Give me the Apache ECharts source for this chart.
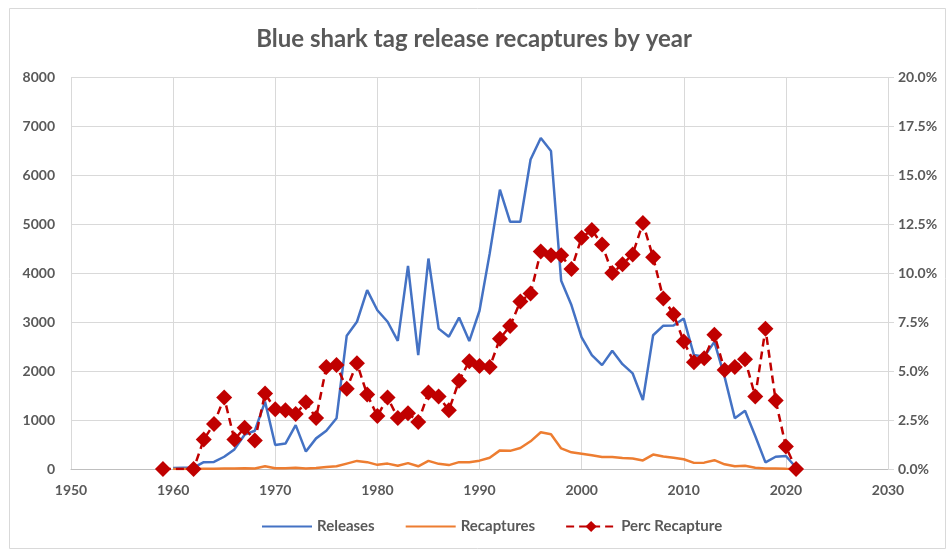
<!DOCTYPE html>
<html>
<head>
<meta charset="utf-8">
<script src="https://cdn.jsdelivr.net/npm/echarts@6/dist/echarts.min.js"></script>
<style>
  html, body { margin: 0; padding: 0; background: #fff; }
  #chart1 { width: 948px; height: 551px; }
</style>
</head>
<body>
<div id="chart1"></div>
<script>
// data
var years = [1960,1961,1962,1963,1964,1965,1966,1967,1968,1969,
             1970,1971,1972,1973,1974,1975,1976,1977,1978,1979,
             1980,1981,1982,1983,1984,1985,1986,1987,1988,1989,
             1990,1991,1992,1993,1994,1995,1996,1997,1998,1999,
             2000,2001,2002,2003,2004,2005,2006,2007,2008,2009,
             2010,2011,2012,2013,2014,2015,2016,2017,2018,2019,
             2020,2021];
var releases = [20,25,30,140,145,250,400,700,780,1375,
                490,520,895,355,625,780,1035,2720,3005,3650,
                3240,3005,2615,4145,2325,4295,2865,2700,3090,2610,
                3230,4400,5700,5045,5045,6315,6755,6490,3840,3345,
                2685,2325,2120,2415,2140,1950,1405,2730,2925,2930,
                3070,2325,2290,2595,1880,1035,1190,675,135,250,
                265,30];
var recaptures = [0,0,2,5,5,8,10,15,12,55,
                  15,15,25,12,18,40,55,110,165,140,
                  85,110,65,120,55,165,105,80,140,140,
                  170,230,380,370,430,565,750,710,420,340,
                  310,280,245,245,225,215,175,295,255,230,
                  200,125,130,180,95,55,65,25,10,9,
                  3,0];
var percYears = [1959,1962,1963,1964,1965,1966,1967,1968,1969,
                 1970,1971,1972,1973,1974,1975,1976,1977,1978,1979,
                 1980,1981,1982,1983,1984,1985,1986,1987,1988,1989,
                 1990,1991,1992,1993,1994,1995,1996,1997,1998,1999,
                 2000,2001,2002,2003,2004,2005,2006,2007,2008,2009,
                 2010,2011,2012,2013,2014,2015,2016,2017,2018,2019,
                 2020,2021];
var percRecapture = [0,0,1.5,2.3,3.65,1.5,2.1,1.45,3.85,
                     3.05,3.0,2.8,3.4,2.6,5.2,5.3,4.1,5.4,3.8,
                     2.7,3.65,2.6,2.85,2.4,3.9,3.7,3.0,4.5,5.5,
                     5.25,5.2,6.65,7.3,8.55,8.95,11.1,10.9,10.9,10.2,
                     11.8,12.2,11.45,10.0,10.45,10.95,12.55,10.8,8.7,7.9,
                     6.5,5.45,5.65,6.85,5.05,5.2,5.6,3.7,7.15,3.5,
                     1.15,0];

function pairs(xs, ys) {
  return xs.map(function (x, i) { return [x, ys[i]]; });
}

var textColor = '#595959';
var font = 'Lato, "Open Sans", sans-serif';
var noSymbol = { color: 'rgba(0,0,0,0)', borderWidth: 0, opacity: 0 };

var chart1 = echarts.init(document.getElementById('chart1'));

var option1 = {
  backgroundColor: '#fff',
  textStyle: { fontFamily: font },
  title: {
    text: 'Blue shark tag release recaptures by year',
    left: 'center',
    top: 22,
    textStyle: { color: textColor, fontSize: 24, fontWeight: 'bold', fontFamily: font }
  },
  graphic: [{
    type: 'rect',
    left: 7, top: 6,
    shape: { width: 936, height: 540 },
    style: { fill: 'none', stroke: '#d9d9d9', lineWidth: 1 },
    silent: true
  }],
  legend: {
    bottom: 12,
    left: 256,
    itemWidth: 50,
    itemHeight: 14,
    itemGap: 30,
    textStyle: { color: textColor, fontSize: 15, fontWeight: 'bold', fontFamily: font },
    data: [
      { name: 'Releases', itemStyle: noSymbol },
      { name: 'Recaptures', itemStyle: noSymbol },
      { name: 'Perc Recapture' }
    ]
  },
  grid: { left: 71, right: 60, top: 77, bottom: 82 },
  xAxis: {
    type: 'value',
    min: 1950, max: 2030, interval: 10,
    axisLine: { show: true, lineStyle: { color: '#bfbfbf' } },
    axisTick: { show: false },
    axisLabel: {
      color: textColor, fontSize: 14, fontWeight: 'bold', margin: 14,
      formatter: function (v) { return String(v); }
    },
    splitLine: { show: true, lineStyle: { color: '#d9d9d9' } }
  },
  yAxis: [{
    type: 'value',
    min: 0, max: 8000, interval: 1000,
    axisLine: { show: false },
    axisTick: { show: false },
    axisLabel: {
      color: textColor, fontSize: 14, fontWeight: 'bold', margin: 16,
      formatter: function (v) { return String(v); }
    },
    splitLine: { lineStyle: { color: '#d9d9d9' } }
  }, {
    type: 'value',
    min: 0, max: 20, interval: 2.5,
    position: 'right',
    axisLine: { show: false },
    axisTick: { show: true, length: 6, lineStyle: { color: '#d9d9d9' } },
    axisLabel: {
      color: textColor, fontSize: 14, fontWeight: 'bold', margin: 10,
      formatter: function (v) { return v.toFixed(1) + '%'; }
    },
    splitLine: { show: false }
  }],
  series: [
    {
      name: 'Releases',
      type: 'line',
      yAxisIndex: 0,
      symbol: 'circle',
      showSymbol: false,
      lineStyle: { color: '#4472c4', width: 2.5 },
      itemStyle: { color: '#4472c4' },
      data: pairs(years, releases)
    },
    {
      name: 'Recaptures',
      type: 'line',
      yAxisIndex: 0,
      symbol: 'circle',
      showSymbol: false,
      lineStyle: { color: '#ed7d31', width: 2.5 },
      itemStyle: { color: '#ed7d31' },
      data: pairs(years, recaptures)
    },
    {
      name: 'Perc Recapture',
      type: 'line',
      yAxisIndex: 1,
      symbol: 'diamond',
      symbolSize: 16,
      lineStyle: { color: '#c00000', width: 2.5, type: [8, 5] },
      itemStyle: { color: '#c00000' },
      data: pairs(percYears, percRecapture)
    }
  ]
};

chart1.setOption(option1);

window.onresize = function () {
  chart1.resize();
};
</script>
</body>
</html>
